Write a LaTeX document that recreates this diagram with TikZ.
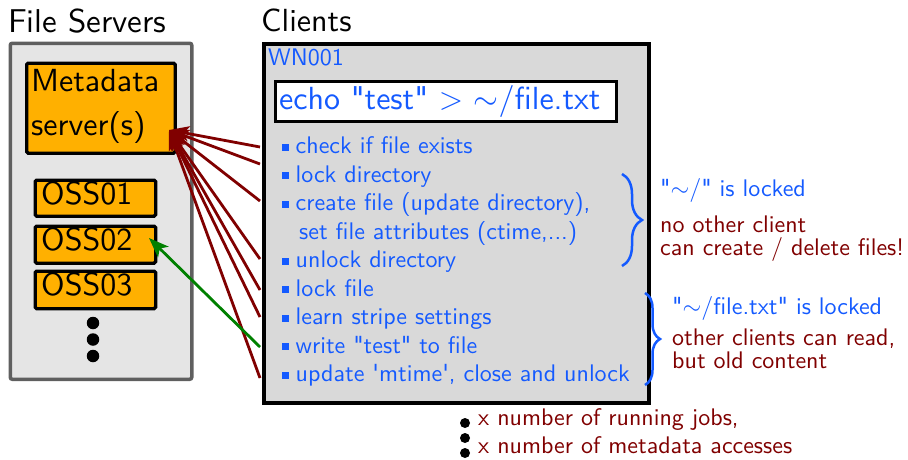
\RequirePackage{fix-cm}
\documentclass[tikz,border=0pt]{standalone}
\usepackage{fontspec}
\setsansfont{lmsans10-regular.otf}
\usetikzlibrary{arrows.meta,decorations.pathreplacing}
\definecolor{cblue}{RGB}{20,90,255}
\definecolor{cred}{RGB}{128,0,0}
\definecolor{cgreen}{RGB}{0,128,0}
\definecolor{corange}{RGB}{255,176,0}
\definecolor{cgrayfill}{RGB}{229,229,229}
\definecolor{cgrayline}{RGB}{95,95,95}
\definecolor{cclient}{RGB}{217,217,217}
\newcommand\bsq{\textcolor{cblue}{\raisebox{3pt}{\rule{7pt}{7pt}}}\hspace{6.5pt}}
\newcommand\qd{\textquotedbl}
\newcommand\qs{\textquotesingle}
\tikzset{
  txt/.style={inner sep=0pt, anchor=base west, font=\sffamily\fontsize{24}{28}\selectfont},
  bluetxt/.style={txt, text=cblue},
  redtxt/.style={txt, text=cred},
  head/.style={inner sep=0pt, anchor=base west, font=\sffamily\fontsize{32}{38}\selectfont},
  orangebox/.style={draw=black, fill=corange, line width=3.3pt, rounded corners=1.5pt, inner sep=0pt, anchor=north west},
  grayframe/.style={draw=cgrayline, fill=cgrayfill, line width=3.5pt, rounded corners=2pt, inner sep=0pt, anchor=north west},
  clientframe/.style={draw=black, fill=cclient, line width=4pt, inner sep=0pt, anchor=north west},
  cmdframe/.style={draw=black, fill=white, line width=3.3pt, inner sep=0pt, anchor=north west},
  redarrow/.style={draw=cred, line width=2.8pt, -{Stealth[length=20pt,width=15pt,inset=5pt]}},
  greenarrow/.style={draw=cgreen, line width=2.8pt, -{Stealth[length=20pt,width=15pt,inset=5pt]}},
  bracedeco/.style={draw=cblue, line width=2.5pt, decorate, decoration={brace, amplitude=#1}},
  bigdot/.style={circle, fill=black, inner sep=0pt, minimum size=#1}
}
\begin{document}
\begin{tikzpicture}[x=1pt, y=-1pt]
\useasboundingbox (0,0) rectangle (908,459);
% titles
\node[head, font=\sffamily\fontsize{33}{38}\selectfont] (fstitle) at (8,32) {File Servers};
\node[head] (cltitle) at (261,31) {Clients};
% file servers
\node[grayframe, minimum width=181.5pt, minimum height=336pt] (fs) at (8.5,41.5) {};
\node[orangebox, minimum width=148.5pt, minimum height=90pt] (mds) at (25,61.5) {};
\node[head] (mdsa) at (31,91.5) {Metadata};
\node[head] (mdsb) at (31,135) {server(s)};
\node[orangebox, minimum width=120.5pt, minimum height=36pt] (oss1) at (33.5,178.5) {};
\node[orangebox, minimum width=120.5pt, minimum height=37pt] (oss2) at (33.5,224.5) {};
\node[orangebox, minimum width=120.5pt, minimum height=37.5pt] (oss3) at (33.5,269.5) {};
\node[head] (oss1t) at (41,204) {OSS01};
\node[head] (oss2t) at (41,250) {OSS02};
\node[head] (oss3t) at (41,295) {OSS03};
\node[bigdot=12.5pt] (d1) at (93,323) {};
\node[bigdot=12.5pt] (d2) at (93,339.5) {};
\node[bigdot=12.5pt] (d3) at (93,356) {};
% clients
\node[clientframe, minimum width=385pt, minimum height=359pt] (cl) at (262,42) {};
\node[bluetxt] (wn) at (268,65) {WN001};
\node[cmdframe, minimum width=341.5pt, minimum height=40pt] (cmd) at (273.5,80) {};
\node[bluetxt, font=\sffamily\fontsize{32}{38}\selectfont] (cmdt) at (279,109) {echo \qd test\qd{} $>$ $\sim$/file.txt};
\node[bluetxt] (i1) at (282,153.5) {\bsq check if file exists};
\node[bluetxt] (i2) at (282,182) {\bsq lock directory};
\node[bluetxt] (i3) at (282,210.5) {\bsq create file (update directory),};
\node[bluetxt] (i3b) at (299,239) {set file attributes (ctime,...)};
\node[bluetxt] (i4) at (282,267.5) {\bsq unlock directory};
\node[bluetxt] (i5) at (282,296) {\bsq lock file};
\node[bluetxt] (i6) at (282,324.5) {\bsq learn stripe settings};
\node[bluetxt] (i7) at (282,353) {\bsq write \qd test\qd{} to file};
\node[bluetxt] (i8) at (282,381.5) {\bsq update \qs mtime\qs, close and unlock};
% braces and notes
\coordinate (b1a) at (622,174);
\coordinate (b1b) at (622,266);
\draw[bracedeco=20pt] (b1a) -- (b1b);
\coordinate (b2a) at (645,293);
\coordinate (b2b) at (645,385);
\draw[bracedeco=15pt] (b2a) -- (b2b);
\node[bluetxt] (n1) at (660,196) {\qd$\sim$/\qd{} is locked};
\node[redtxt] (n2) at (660,232) {no other client};
\node[redtxt] (n3) at (660,255) {can create / delete files!};
\node[bluetxt] (n4) at (672,314) {\qd$\sim$/file.txt\qd{} is locked};
\node[redtxt] (n5) at (672,345) {other clients can read,};
\node[redtxt] (n6) at (672,368) {but old content};
% arrows
\coordinate (mtip) at (169,130);
\coordinate (gtip) at (149,238);
\coordinate (r1) at (260,147);
\coordinate (r2) at (260,164);
\coordinate (r3) at (260,201);
\coordinate (r4) at (260,259);
\coordinate (r5) at (260,290);
\coordinate (r6) at (260,317);
\coordinate (r7) at (260,378);
\coordinate (g1) at (260,347);
\foreach \s in {r1,r2,r3,r4,r5,r6,r7} \draw[redarrow] (\s) -- (mtip);
\draw[greenarrow] (g1) -- (gtip);
% bottom
\node[bigdot=10pt] (e1) at (465,423) {};
\node[bigdot=10pt] (e2) at (465,438) {};
\node[bigdot=10pt] (e3) at (465,453) {};
\node[redtxt] (bt1) at (478,425) {x number of running jobs,};
\node[redtxt] (bt2) at (478,453) {x number of metadata accesses};
\end{tikzpicture}
\end{document}
